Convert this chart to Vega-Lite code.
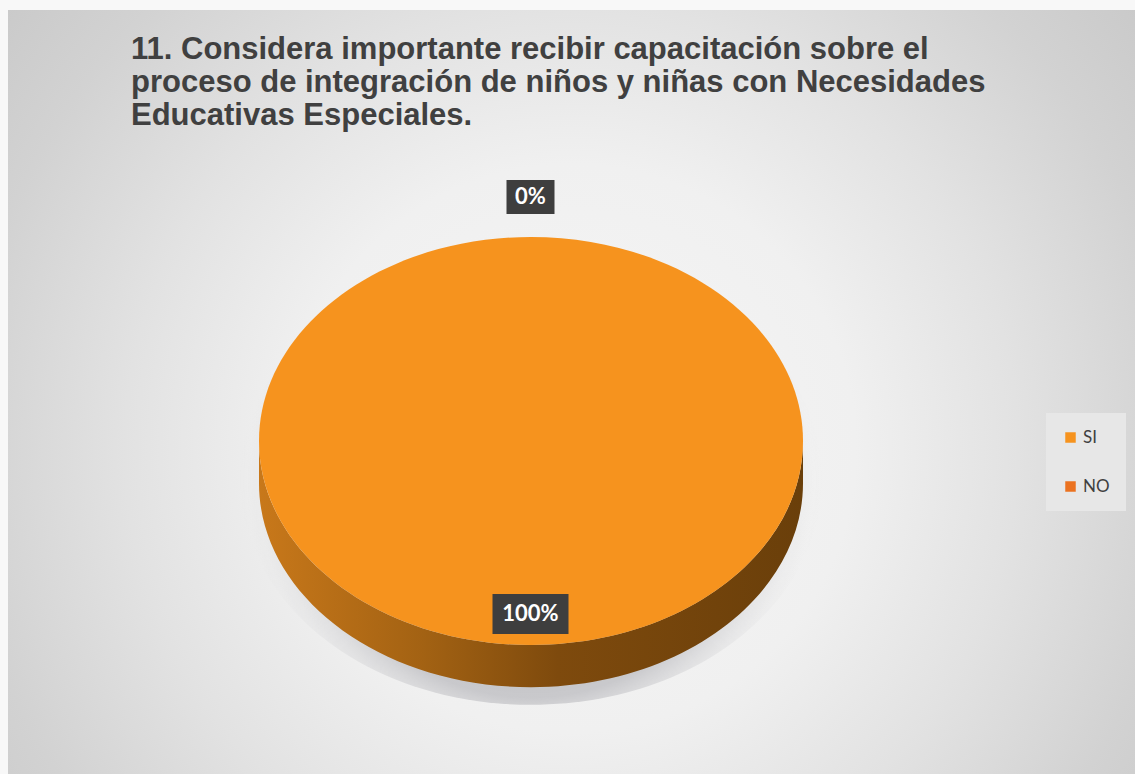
{
  "$schema": "https://vega.github.io/schema/vega-lite/v6.json",
  "width": 1135,
  "height": 774,
  "autosize": {"type": "fit", "contains": "padding"},
  "padding": {"left": 8, "top": 10, "right": 0, "bottom": 0},
  "background": "#f8f8f8",
  "title": {
    "text": [
      "11. Considera importante recibir capacitación sobre el",
      "proceso de integración de niños y niñas con Necesidades",
      "Educativas Especiales."
    ],
    "anchor": "start",
    "frame": "group",
    "dx": 123,
    "font": "Liberation Sans",
    "fontSize": 31,
    "fontWeight": "bold",
    "color": "#404040",
    "lineHeight": 33,
    "offset": -122
  },
  "config": {"view": {"stroke": null}},
  "data": {
    "values": [
      {"category": "SI", "value": 100, "label": "100%"},
      {"category": "NO", "value": 0, "label": "0%"}
    ]
  },
  "layer": [
    {
      "transform": [{"filter": "datum.category == 'SI'"}],
      "mark": {
        "type": "rect",
        "strokeWidth": 0,
        "fill": {
          "gradient": "radial",
          "x1": 0.5, "y1": 0.55, "r1": 0,
          "x2": 0.5, "y2": 0.55, "r2": 0.72,
          "stops": [
            {"offset": 0, "color": "#f6f6f6"},
            {"offset": 0.35, "color": "#f0f0f0"},
            {"offset": 0.55, "color": "#e2e2e2"},
            {"offset": 0.75, "color": "#d2d2d2"},
            {"offset": 1, "color": "#c3c3c3"}
          ]
        }
      },
      "encoding": {}
    },
    {
      "transform": [{"filter": "datum.category == 'SI'"}],
      "mark": {
        "type": "point",
        "filled": true,
        "size": 295936,
        "strokeWidth": 0,
        "xOffset": -40.5,
        "yOffset": 49,
        "shape": "M 1.07 0.14 C 1.07 0.6 0.6 0.97 0 0.97 C -0.6 0.97 -1.07 0.6 -1.07 0.14 C -1.07 -0.32 -0.6 -0.69 0 -0.69 C 0.6 -0.69 1.07 -0.32 1.07 0.14 Z",
        "fill": {
          "gradient": "radial",
          "x1": 0.5, "y1": 0.5, "r1": 0,
          "x2": 0.5, "y2": 0.5, "r2": 0.5,
          "stops": [
            {"offset": 0, "color": "rgba(110,110,115,0.5)"},
            {"offset": 0.75, "color": "rgba(140,140,148,0.4)"},
            {"offset": 1, "color": "rgba(236,236,236,0)"}
          ]
        },
        "opacity": 1
      },
      "encoding": {}
    },
    {
      "transform": [{"filter": "datum.category == 'SI'"}],
      "mark": {
        "type": "point",
        "filled": true,
        "size": 295936,
        "strokeWidth": 0,
        "opacity": 1,
        "xOffset": -40.5,
        "yOffset": 49,
        "shape": "M -1 0 L -1 0.155 C -1 0.5692 -0.5523 0.905 0 0.905 C 0.5523 0.905 1 0.5692 1 0.155 L 1 0 C 1 0.4142 0.5523 0.75 0 0.75 C -0.5523 0.75 -1 0.4142 -1 0 Z",
        "fill": {
          "gradient": "linear",
          "x1": 0, "y1": 0, "x2": 1, "y2": 0,
          "stops": [
            {"offset": 0, "color": "#C8781A"},
            {"offset": 0.3, "color": "#A36213"},
            {"offset": 0.55, "color": "#7E4A0D"},
            {"offset": 1, "color": "#6A3F0A"}
          ]
        }
      },
      "encoding": {}
    },
    {
      "transform": [{"filter": "datum.category == 'SI'"}],
      "mark": {
        "type": "point",
        "filled": true,
        "size": 295936,
        "strokeWidth": 0,
        "opacity": 1,
        "xOffset": -40.5,
        "yOffset": 49,
        "shape": "M 1 0 C 1 0.4142 0.5523 0.75 0 0.75 C -0.5523 0.75 -1 0.4142 -1 0 C -1 -0.4142 -0.5523 -0.75 0 -0.75 C 0.5523 -0.75 1 -0.4142 1 0 Z"
      },
      "encoding": {
        "color": {
          "field": "category",
          "type": "nominal",
          "scale": {"domain": ["SI", "NO"], "range": ["#F6931E", "#EB7220"]},
          "legend": {
            "title": null,
            "orient": "none",
            "legendX": 1038,
            "legendY": 403,
            "padding": 16,
            "fillColor": "#e7e7e7",
            "symbolType": "square",
            "symbolSize": 110,
            "symbolStrokeWidth": 0,
            "symbolOpacity": 1,
            "labelFont": "Lato",
            "labelFontSize": 17,
            "labelColor": "#404040",
            "labelOffset": 4,
            "rowPadding": 31
          }
        }
      }
    },
    {
      "transform": [{"filter": "datum.category == 'NO'"}],
      "mark": {
        "type": "point",
        "filled": true,
        "size": 2304,
        "strokeWidth": 0,
        "opacity": 1,
        "xOffset": -41,
        "color": "#3e3e3e",
        "shape": "M -1 -0.708 L 1 -0.708 L 1 0.708 L -1 0.708 Z"
      },
      "encoding": {
        "y": {
          "field": "category",
          "type": "nominal",
          "scale": {"type": "point", "padding": 0, "domain": ["NO", "SI"], "range": [187, 604]},
          "axis": null
        }
      }
    },
    {
      "transform": [{"filter": "datum.category == 'SI'"}],
      "mark": {
        "type": "point",
        "filled": true,
        "size": 5776,
        "strokeWidth": 0,
        "opacity": 1,
        "xOffset": -41,
        "color": "#3e3e3e",
        "shape": "M -1 -0.526 L 1 -0.526 L 1 0.526 L -1 0.526 Z"
      },
      "encoding": {
        "y": {
          "field": "category",
          "type": "nominal",
          "scale": {"type": "point", "padding": 0, "domain": ["NO", "SI"], "range": [187, 604]},
          "axis": null
        }
      }
    },
    {
      "mark": {
        "type": "text",
        "font": "Lato",
        "fontSize": 22,
        "fontWeight": "bold",
        "color": "#ffffff",
        "baseline": "middle",
        "align": "center",
        "xOffset": -41
      },
      "encoding": {
        "y": {
          "field": "category",
          "type": "nominal",
          "scale": {"type": "point", "padding": 0, "domain": ["NO", "SI"], "range": [187, 604]},
          "axis": null
        },
        "text": {"field": "label", "type": "nominal"}
      }
    }
  ]
}
